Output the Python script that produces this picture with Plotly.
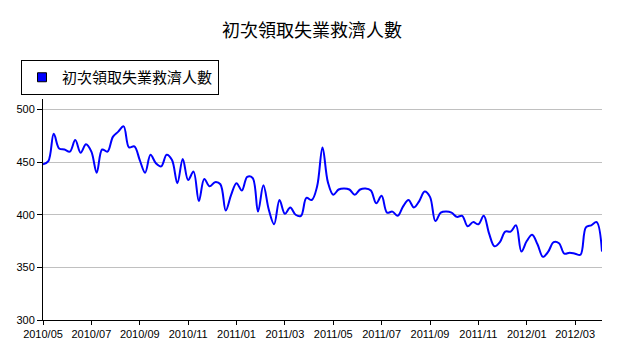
import pandas as pd
import plotly.graph_objects as go

title_text = "初次領取失業救濟人數"
series_name = "初次領取失業救濟人數"

# weekly dates (week ending), category axis
weeks = [d.strftime("%Y-%m-%d") for d in pd.date_range("2010-05-01", periods=105, freq="7D")]

claims = [
    448, 451, 477, 463, 462, 460, 471, 459, 467, 460,
    440, 462, 460, 474, 479, 484, 464, 465, 452, 440,
    457, 449, 446, 457, 452, 430, 453, 433, 441, 413,
    434, 427, 431, 429, 404, 419, 430, 423, 436, 435,
    403, 428, 405, 391, 414, 401, 407, 400, 399, 416,
    414, 427, 464, 431, 419, 424, 425, 424, 419, 424,
    425, 423, 411, 418, 402, 403, 399, 408, 414, 407,
    413, 422, 417, 394, 402, 403, 402, 398, 399, 389,
    393, 391, 399, 382, 370, 374, 384, 384, 390, 365,
    375, 381, 372, 360, 365, 374, 373, 363, 364, 363,
    362, 388, 390, 393, 365,
]

tick_weeks = weeks[::9]
tick_labels = ["2010/05", "2010/07", "2010/09", "2010/11", "2011/01", "2011/03",
               "2011/05", "2011/07", "2011/09", "2011/11", "2012/01", "2012/03"]
y_ticks = [300, 350, 400, 450, 500]

fig = go.Figure()
fig.add_trace(go.Scatter(
    x=weeks, y=claims, mode="lines", name=series_name,
    line=dict(color="#0000ff", width=2, shape="spline", smoothing=1.0),
    showlegend=False, hoverinfo="x+y",
))
# legend entry with a square swatch
fig.add_trace(go.Scatter(
    x=[None], y=[None], mode="markers", name=series_name,
    marker=dict(symbol="square", size=9, color="#0000ff", line=dict(color="black", width=1)),
    showlegend=True,
))

fig.update_layout(
    width=624, height=346,
    margin=dict(l=43, r=22, t=99, b=26, autoexpand=False),
    paper_bgcolor="white", plot_bgcolor="white",
    title=dict(text=title_text, x=0.5, xanchor="center", xref="container",
               y=1 - 31 / 346, yanchor="middle", yref="container",
               font=dict(family="Noto Sans CJK TC", size=18, color="black")),
    legend=dict(x=21 / 624, y=1 - 60 / 346, xref="container", yref="container",
                xanchor="left", yanchor="top",
                bgcolor="white", bordercolor="black", borderwidth=1,
                font=dict(family="Noto Sans CJK TC", size=15, color="black"),
                itemwidth=30, tracegroupgap=0),
    font=dict(family="Liberation Sans, Arial", size=11, color="black"),
    showlegend=True,
)
fig.update_xaxes(
    type="category", range=[0, 104],
    tickvals=tick_weeks, ticktext=tick_labels, tickangle=0,
    showgrid=False, showline=True, linecolor="black", linewidth=1,
    ticks="outside", ticklen=4, tickcolor="black",
    tickfont=dict(family="Liberation Sans, Arial", size=11, color="black"),
    zeroline=False,
)
fig.update_yaxes(
    range=[300, 510], tickvals=y_ticks,
    showgrid=True, gridcolor="#c0c0c0", gridwidth=1,
    showline=True, linecolor="black", linewidth=1,
    ticks="outside", ticklen=5, tickcolor="black",
    tickfont=dict(family="Liberation Sans, Arial", size=11, color="black"),
    zeroline=False,
)

fig.write_html("out.html")
